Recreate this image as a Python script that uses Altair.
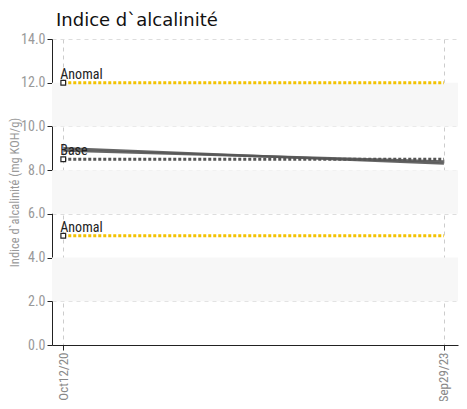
import altair as alt
import pandas as pd

start = "2020-10-12"
end = "2023-09-29"
dates = [start, end]

# threshold / reference series
ref_names = ["Anomal", "Base", "Anomal "]
ref_values = [12.0, 8.5, 5.0]
ref_colors = ["#f2c200", "#555555", "#f2c200"]

# measured series (two overlapping)
meas_a = [9.0, 8.3]
meas_b = [8.9, 8.4]

band_lo = [10, 6, 2]
band_hi = [12, 8, 4]

y_ticks = [0, 2, 4, 6, 8, 10, 12, 14]

ref_rows = []
for n, v, c in zip(ref_names, ref_values, ref_colors):
    for d in dates:
        ref_rows.append({"name": n, "date": d, "value": v, "color": c})
ref_df = pd.DataFrame(ref_rows)
start_df = pd.DataFrame({"name": ["Anomal", "Base", "Anomal"], "date": [start] * 3, "value": ref_values})

meas_df = pd.DataFrame(
    [{"s": "a", "date": d, "value": v} for d, v in zip(dates, meas_a)]
    + [{"s": "b", "date": d, "value": v} for d, v in zip(dates, meas_b)]
)
band_df = pd.DataFrame({"lo": band_lo, "hi": band_hi})

font = "Liberation Sans Narrow, Roboto Condensed, Roboto"
xscale = alt.Scale(domain=["2020-09-10", "2023-11-08"])
yscale = alt.Scale(domain=[0, 14], nice=False)

x_axis = alt.Axis(
    values=[pd.Timestamp(start).value // 10**6, pd.Timestamp(end).value // 10**6],
    format="%b%d/%y", labelAngle=270, title=None, grid=True,
    gridDash=[4, 4], gridColor="#cccccc", domainColor="#222222", tickColor="#222222",
    labelColor="#888888", labelFontSize=13, labelFont=font, labelPadding=2,
)
y_axis = alt.Axis(
    values=y_ticks, format=".1f", title="Indice d`alcalinité (mg KOH/g)",
    titleFontSize=12.5, titleColor="#999999", titleFontWeight="normal", titleFont=font,
    titleX=-31, titleY=153, titleBaseline="bottom", titleAngle=270,
    grid=True, gridDash=[4, 4], gridColor="#dddddd", domainColor="#222222",
    tickColor="#222222", labelColor="#999999", labelFontSize=14, labelFont=font,
    labelPadding=2,
)

bands = alt.Chart(band_df).mark_rect(color="#f7f7f7").encode(
    y=alt.Y("lo:Q", scale=yscale, axis=y_axis), y2="hi:Q"
)

axes = alt.Chart(ref_df).mark_point(opacity=0).encode(
    x=alt.X("date:T", scale=xscale, axis=x_axis),
    y=alt.Y("value:Q", scale=yscale),
)

refs = alt.Chart(ref_df).mark_line(strokeWidth=3, strokeDash=[3, 2]).encode(
    x=alt.X("date:T", scale=xscale),
    y=alt.Y("value:Q", scale=yscale),
    color=alt.Color("color:N", scale=None),
    detail="name:N",
)

meas = alt.Chart(meas_df).mark_line(strokeWidth=2.5, color="#555555", opacity=0.9).encode(
    x=alt.X("date:T", scale=xscale),
    y=alt.Y("value:Q", scale=yscale),
    detail="s:N",
)

marks = alt.Chart(start_df).mark_point(shape="square", filled=True, fill="white", stroke="#222222",
                                       strokeWidth=1.2, size=22, opacity=1).encode(
    x=alt.X("date:T", scale=xscale),
    y=alt.Y("value:Q", scale=yscale),
)

labels = alt.Chart(start_df).mark_text(align="left", baseline="bottom", dx=-3, dy=-1,
                                       font=font, fontSize=14, color="#222222",
                                       fontWeight="normal").encode(
    x=alt.X("date:T", scale=xscale),
    y=alt.Y("value:Q", scale=yscale),
    text="name:N",
)

chart = alt.layer(bands, axes, refs, meas, marks, labels).properties(
    width=406, height=306,
    autosize=alt.AutoSizeParams(type="none"),
    padding={"left": 44, "top": 31, "right": 1, "bottom": 56},
    title=alt.TitleParams("Indice d`alcalinité", anchor="start", frame="group", fontSize=18,
                          font="DejaVu Sans", fontWeight="normal", color="#111111", offset=2, dx=4),
).configure_view(stroke=None)

chart.save("out.html", embed_options={"renderer": "svg", "actions": False})
